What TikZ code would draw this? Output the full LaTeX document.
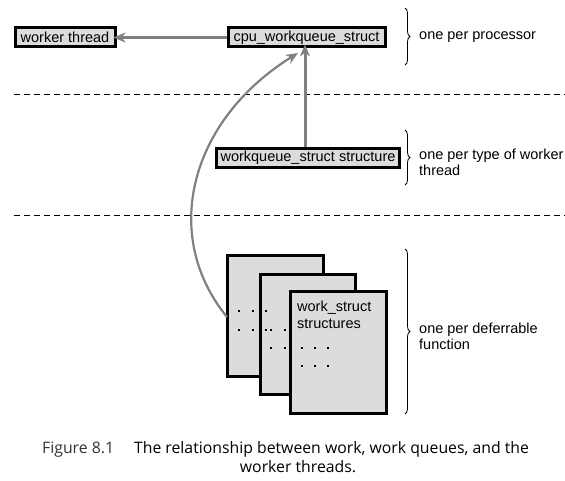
\documentclass[tikz,border=0pt]{standalone}
\usepackage{fontspec}
\setmainfont{Liberation Sans}
\newfontfamily\capfont{Open Sans}
\usetikzlibrary{arrows.meta,decorations.pathreplacing}
\definecolor{boxfill}{RGB}{220,220,220}
\definecolor{arrowgray}{RGB}{128,128,128}
\begin{document}
\begin{tikzpicture}[x=1pt,y=-1pt,
  structbox/.style={draw=black,line width=3pt,fill=boxfill,inner sep=0pt,minimum height=19pt,font=\fontsize{14.5}{16}\selectfont},
  page/.style={draw=black,line width=3pt,fill=boxfill,inner sep=0pt},
  garrow/.style={draw=arrowgray,line width=3pt,-{Stealth[length=12pt,width=10pt]}},
  sep/.style={draw=black,line width=1pt,dash pattern=on 6pt off 4pt},
  bracedeco/.style={draw=black,line width=0.8pt,decorate,decoration={brace,amplitude=5pt}},
  lbl/.style={anchor=west,align=left,inner sep=0pt,font=\fontsize{14.5}{16}\selectfont},
  dot/.style={fill=black,inner sep=0pt,minimum size=2.5pt},
  captext/.style={font=\capfont\fontsize{15.8}{20}\selectfont,inner sep=0pt}]
\useasboundingbox (0,0) rectangle (565,481);
% top boxes
\node[structbox,minimum width=100pt] (worker) at (65,37.5) {worker thread};
\node[structbox,minimum width=157pt] (cpu) at (306.5,37.5) {cpu\_workqueue\_struct};
\node[structbox,minimum width=183pt] (wq) at (308,158) {workqueue\_struct structure};
% separators
\coordinate (s1a) at (14,95); \coordinate (s1b) at (565,95);
\coordinate (s2a) at (14,216); \coordinate (s2b) at (565,216);
\draw[sep] (s1a) -- (s1b);
\draw[sep] (s2a) -- (s2b);
% pages
\node[page,minimum width=96pt,minimum height=120pt] (p1) at (275,316) {};
\node[page,minimum width=95pt,minimum height=120pt] (p2) at (307.5,334) {};
\node[page,minimum width=96pt,minimum height=122pt] (p3) at (338,352) {};
% dots
\foreach \x/\y [count=\i] in {239/311,253/311,266/311,239/330,253/330} {\node[dot] (d1\i) at (\x,\y) {};}
\foreach \x/\y [count=\i] in {266/330,271/330,285/330,271/348,285/348} {\node[dot] (d2\i) at (\x,\y) {};}
\foreach \x/\y [count=\i] in {302/348,315/348,328/348,302/366,315/366,328/366} {\node[dot] (d3\i) at (\x,\y) {};}
\node[lbl,anchor=north west,font=\fontsize{14.5}{16.5}\selectfont] (wstext) at (297,301) {work\_struct\\structures};
% arrows
\draw[garrow] (cpu.west) -- ([xshift=-3pt]worker.east);
\draw[garrow] (wq.north -| 305,0) -- ([yshift=4pt]cpu.south -| 305,0);
\coordinate (cstart) at (227,317);
\coordinate (cend) at (298,53);
\draw[garrow,line width=2.2pt] (cstart) .. controls (160,235) and (190,120) .. (cend);
% braces
\coordinate (b1t) at (405,8); \coordinate (b1b) at (405,65);
\coordinate (b2t) at (405,130); \coordinate (b2b) at (405,185);
\coordinate (b3t) at (405,249); \coordinate (b3b) at (405,414);
\draw[bracedeco] (b1t) -- (b1b);
\draw[bracedeco] (b2t) -- (b2b);
\draw[bracedeco] (b3t) -- (b3b);
\node[lbl] (l1) at (419,37) {one per processor};
\node[lbl] (l2) at (419,162) {one per type of worker\\thread};
\node[lbl] (l3) at (419,336) {one per deferrable\\function};
% caption
\node[captext,anchor=base west] (c1) at (42,453) {\textcolor{black!80}{Figure 8.1}\hspace{20pt}The relationship between work, work queues, and the};
\node[captext,anchor=base] (c2) at (298,472) {worker threads.};
\end{tikzpicture}
\end{document}
